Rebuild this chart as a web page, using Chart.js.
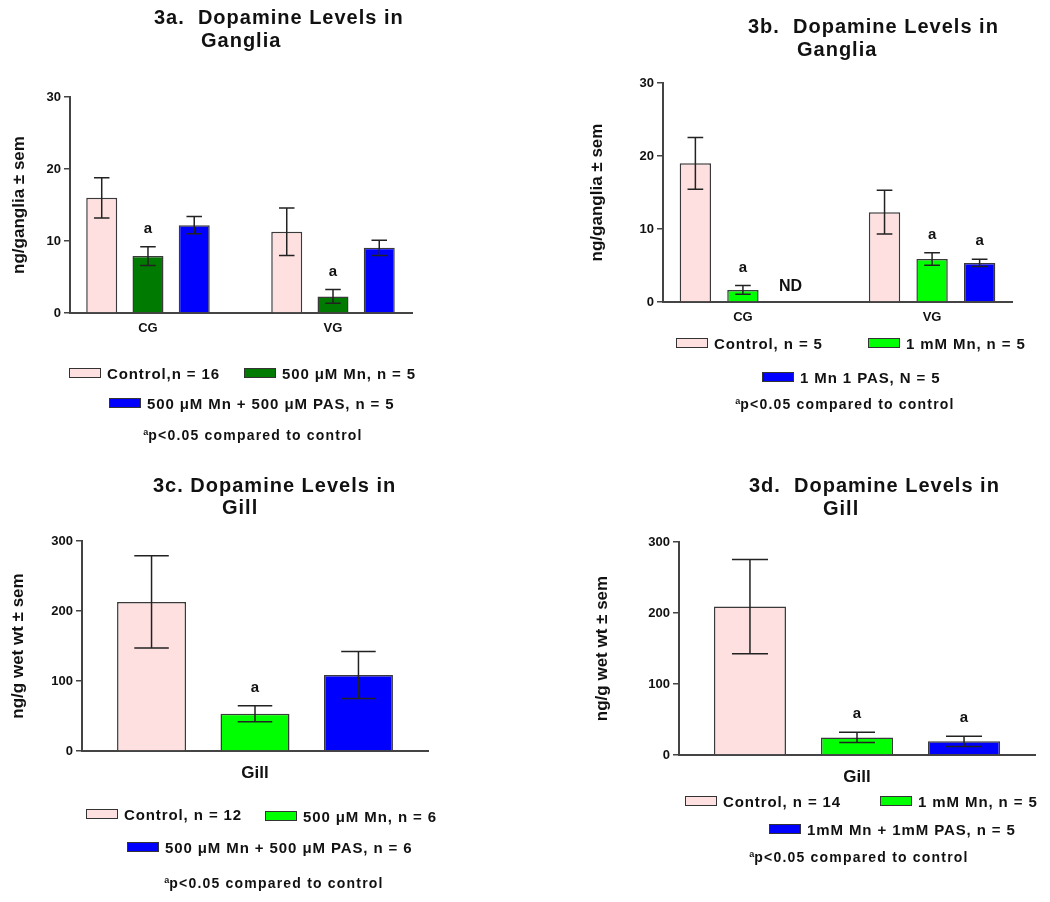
<!DOCTYPE html>
<html>
<head>
<meta charset="utf-8">
<script src="https://cdn.jsdelivr.net/npm/chart.js@4.4.1/dist/chart.umd.min.js"></script>
<style>
  body { margin: 0; background: #fff; width: 1050px; height: 902px; position: relative; overflow: hidden;
         font-family: "Liberation Sans", Arial, sans-serif; font-weight: bold; color: #111; }
  canvas { position: absolute; }
  .txt { position: absolute; white-space: pre; transform: translateY(-50%); }
  .ttl { font-size: 20px; letter-spacing: 1px; }
  .leg { font-size: 15px; letter-spacing: 0.9px; }
  .note { font-size: 14px; letter-spacing: 1.2px; transform: translate(-50%, -50%); }
  .note sup { font-size: 9px; letter-spacing: 0; }
  .sw { position: absolute; width: 30px; height: 8px; border: 1.5px solid #333; transform: translateY(-50%); }
</style>
</head>
<body>
<canvas id="chartA" width="525" height="450" style="left:0;top:0"></canvas>
<canvas id="chartB" width="525" height="450" style="left:525px;top:0"></canvas>
<canvas id="chartC" width="525" height="452" style="left:0;top:450px"></canvas>
<canvas id="chartD" width="525" height="452" style="left:525px;top:450px"></canvas>
<script>
// ---- data ----
const gangliaSites = ['CG', 'VG'];
const gillSites = ['Gill'];
const note = 'p<0.05 compared to control';

// 3a  ganglia, 500 uM
const aTitle = ['3a.  Dopamine Levels in', 'Ganglia'];
const aNames = ['Control,n = 16', '500 μM Mn, n = 5', '500 μM Mn + 500 μM PAS, n = 5'];
const aControl = [16.0, 11.3];
const aControlSem = [2.8, 3.3];
const aMn = [7.9, 2.3];
const aMnSem = [1.3, 0.95];
const aPas = [12.2, 9.05];
const aPasSem = [1.2, 1.05];

// 3b  ganglia, 1 mM (PAS not detected in CG)
const bTitle = ['3b.  Dopamine Levels in', 'Ganglia'];
const bNames = ['Control, n = 5', '1 mM Mn, n = 5', '1 Mn 1 PAS, N = 5'];
const bControl = [19.0, 12.3];
const bControlSem = [3.55, 3.0];
const bMn = [1.65, 5.9];
const bMnSem = [0.6, 0.85];
const bPas = [null, 5.35];
const bPasSem = [0, 0.5];

// 3c  gill, 500 uM
const cTitle = ['3c. Dopamine Levels in', 'Gill'];
const cNames = ['Control, n = 12', '500 μM Mn, n = 6', '500 μM Mn + 500 μM PAS, n = 6'];
const cControl = [213];
const cControlSem = [66];
const cMn = [53.3];
const cMnSem = [11.5];
const cPas = [108.6];
const cPasSem = [33.6];

// 3d  gill, 1 mM
const dTitle = ['3d.  Dopamine Levels in', 'Gill'];
const dNames = ['Control, n = 14', '1 mM Mn, n = 5', '1mM Mn + 1mM PAS, n = 5'];
const dControl = [209];
const dControlSem = [66.5];
const dMn = [24.8];
const dMnSem = [7.3];
const dPas = [19.2];
const dPasSem = [7.2];

const pink = '#ffe0e0', darkGreen = '#007a00', green = '#00ff00', blue = '#0000ff';

Chart.defaults.font.family = '"Liberation Sans", Arial, sans-serif';
Chart.defaults.font.weight = 'bold';
Chart.defaults.color = '#111';

// error bars, "a" marks and ND drawn from the y scale
const semBars = {
  id: 'semBars',
  afterDatasetsDraw(chart) {
    const { ctx, scales: { y } } = chart;
    ctx.save();
    chart.data.datasets.forEach((ds, di) => {
      chart.getDatasetMeta(di).data.forEach((bar, i) => {
        const v = ds.data[i].y;
        ctx.fillStyle = '#111';
        ctx.textAlign = 'center';
        ctx.textBaseline = 'middle';
        if (v == null) {
          ctx.font = 'bold 16px "Liberation Sans", Arial, sans-serif';
          ctx.fillText('ND', bar.x, y.getPixelForValue(0) - 15);
          return;
        }
        const hi = y.getPixelForValue(v + ds.sem[i]);
        const lo = y.getPixelForValue(v - ds.sem[i]);
        const cap = bar.width / 4;
        ctx.strokeStyle = '#222';
        ctx.lineWidth = 1.5;
        ctx.beginPath();
        ctx.moveTo(bar.x, hi); ctx.lineTo(bar.x, lo);
        ctx.moveTo(bar.x - cap, hi); ctx.lineTo(bar.x + cap, hi);
        ctx.moveTo(bar.x - cap, lo); ctx.lineTo(bar.x + cap, lo);
        ctx.stroke();
        if (ds.sig[i]) {
          ctx.font = 'bold 15px "Liberation Sans", Arial, sans-serif';
          ctx.fillText('a', bar.x, hi - 18);
        }
      });
    });
    ctx.restore();
  }
};

function panel(id, o) {
  new Chart(document.getElementById(id), {
    type: 'bar',
    data: {
      datasets: o.series.map(s => ({
        label: s.name,
        data: s.mean.map((v, i) => ({ x: o.groupPos[i], y: v })),
        sem: s.sem,
        sig: s.sig,
        backgroundColor: s.color,
        borderColor: '#3a3a3a',
        borderWidth: 1.5,
        barPercentage: o.barPct,
        categoryPercentage: o.catPct
      }))
    },
    options: {
      responsive: false,
      animation: false,
      events: [],
      layout: { padding: o.pad },
      plugins: { legend: { display: false }, tooltip: { enabled: false } },
      scales: {
        x: {
          type: 'linear', min: 0, max: 1, offset: false,
          afterBuildTicks: s => { s.ticks = o.groupPos.map(v => ({ value: v })); },
          afterFit: s => { s.height = 40; },
          grid: { display: false, drawTicks: false, offset: false },
          border: { display: true, color: '#444', width: 2 },
          ticks: {
            autoSkip: false, maxRotation: 0, padding: o.xPad,
            font: { size: o.xFont, weight: 'bold' }, color: '#111',
            callback: (v, i) => o.sites[i]
          }
        },
        y: {
          min: 0, max: o.yMax,
          afterFit: s => { s.width = o.yWidth; },
          ticks: { stepSize: o.yMax / 3, font: { size: 13, weight: 'bold' }, color: '#111', padding: 3 },
          grid: { drawOnChartArea: false, drawTicks: true, tickLength: 6, color: '#444', lineWidth: 1.5 },
          border: { color: '#444', width: 2 },
          title: { display: true, text: o.yTitle, font: { size: 17, weight: 'bold' }, color: '#111', padding: 0 }
        }
      }
    },
    plugins: [semBars]
  });
}

function series(names, means, sems, sigs, colors) {
  return names.map((n, k) => ({ name: n, mean: means[k], sem: sems[k], sig: sigs[k], color: colors[k] }));
}

panel('chartA', {
  sites: gangliaSites, groupPos: [0.228, 0.769], yMax: 30, yTitle: 'ng/ganglia ± sem',
  series: series(aNames, [aControl, aMn, aPas], [aControlSem, aMnSem, aPasSem],
    [[false, false], [true, true], [false, false]], [pink, darkGreen, blue]),
  pad: { left: 9, top: 97, right: 113, bottom: 97 }, yWidth: 61,
  catPct: 0.75, barPct: 0.67, xPad: 8, xFont: 13
});
panel('chartB', {
  sites: gangliaSites, groupPos: [0.229, 0.771], yMax: 30, yTitle: 'ng/ganglia ± sem',
  series: series(bNames, [bControl, bMn, bPas], [bControlSem, bMnSem, bPasSem],
    [[false, false], [true, true], [false, true]], [pink, green, blue]),
  pad: { left: 62, top: 83, right: 38, bottom: 108 }, yWidth: 76,
  catPct: 0.754, barPct: 0.66, xPad: 8, xFont: 13
});
panel('chartC', {
  sites: gillSites, groupPos: [0.5], yMax: 300, yTitle: 'ng/g wet wt ± sem',
  series: series(cNames, [cControl, cMn, cPas], [cControlSem, cMnSem, cPasSem],
    [[false], [true], [false]], [pink, green, blue]),
  pad: { left: 8, top: 91, right: 97, bottom: 111 }, yWidth: 74,
  catPct: 0.897, barPct: 0.667, xPad: 12, xFont: 17
});
panel('chartD', {
  sites: gillSites, groupPos: [0.5], yMax: 300, yTitle: 'ng/g wet wt ± sem',
  series: series(dNames, [dControl, dMn, dPas], [dControlSem, dMnSem, dPasSem],
    [[false], [true], [true]], [pink, green, blue]),
  pad: { left: 67, top: 92, right: 15, bottom: 107 }, yWidth: 87,
  catPct: 0.902, barPct: 0.673, xPad: 12, xFont: 17
});

// ---- titles, legends, footnotes (html text) ----
function addText(cls, text, x, y) {
  const d = document.createElement('div');
  d.className = 'txt ' + cls;
  d.textContent = text;
  d.style.left = x + 'px';
  d.style.top = y + 'px';
  document.body.appendChild(d);
  return d;
}
function addSwatch(color, x, y) {
  const d = document.createElement('div');
  d.className = 'sw';
  d.style.background = color;
  d.style.left = x + 'px';
  d.style.top = y + 'px';
  document.body.appendChild(d);
}
function addNote(x, y) {
  const d = addText('note', '', x, y);
  d.innerHTML = '<sup>a</sup>' + note;
}
function decorate(title, names, colors, L) {
  addText('ttl', title[0], L.t1[0], L.t1[1]);
  addText('ttl', title[1], L.t2[0], L.t2[1]);
  names.forEach((n, k) => {
    addSwatch(colors[k], L.leg[k][0], L.leg[k][1]);
    addText('leg', n, L.leg[k][0] + 38, L.leg[k][1]);
  });
  addNote(L.note[0], L.note[1]);
}

decorate(aTitle, aNames, [pink, darkGreen, blue],
  { t1: [154, 17], t2: [201, 40], leg: [[69, 373], [244, 373], [109, 403]], note: [253, 435] });
decorate(bTitle, bNames, [pink, green, blue],
  { t1: [748, 26], t2: [797, 49], leg: [[676, 343], [868, 343], [762, 377]], note: [845, 404] });
decorate(cTitle, cNames, [pink, green, blue],
  { t1: [153, 485], t2: [222, 507], leg: [[86, 814], [265, 816], [127, 847]], note: [274, 883] });
decorate(dTitle, dNames, [pink, green, blue],
  { t1: [749, 485], t2: [823, 508], leg: [[685, 801], [880, 801], [769, 829]], note: [859, 857] });
</script>
</body>
</html>
